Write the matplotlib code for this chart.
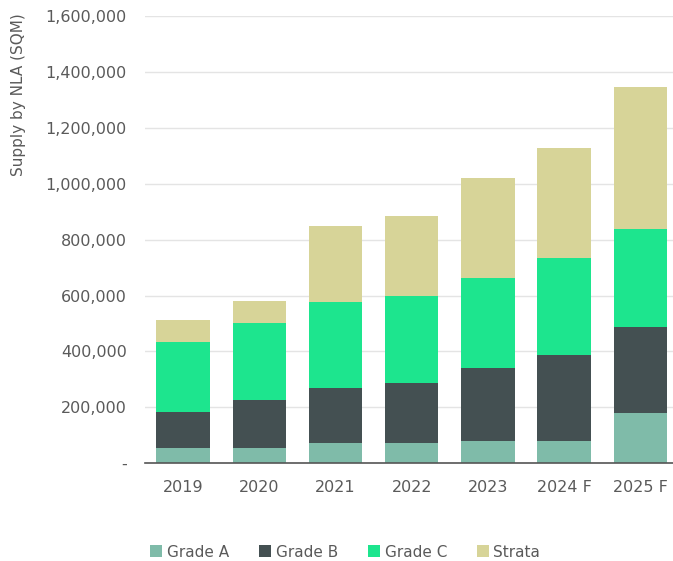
import numpy as np
import matplotlib.pyplot as plt
from matplotlib.ticker import FuncFormatter

# supply by grade, square metres NLA
years = ['2019', '2020', '2021', '2022', '2023', '2024 F', '2025 F']
grade_a = [54000, 54000, 72000, 72000, 81000, 81000, 179000]
grade_b = [129000, 173000, 199000, 215000, 260000, 307000, 307000]
grade_c = [250000, 275000, 307000, 313000, 323000, 347000, 351000]
strata = [79000, 80000, 269000, 283000, 355000, 391000, 509000]

labels = ['Grade A', 'Grade B', 'Grade C', 'Strata']
colors = ['#7fbba9', '#445052', '#1de58e', '#d7d498']

fig = plt.figure(figsize=(6.73, 5.61), dpi=100)
ax = fig.add_axes([0.2155, 0.1742, 0.7845, 0.7973])

x = np.arange(len(years))
bottom = np.zeros(len(years))
for vals, lab, col in zip([grade_a, grade_b, grade_c, strata], labels, colors):
    ax.bar(x, vals, width=0.7, bottom=bottom, color=col, label=lab, zorder=2)
    bottom += np.array(vals)

ax.set_ylim(0, 1600000)
ax.set_xlim(-0.5, 6.43)
ax.set_yticks(np.arange(0, 1600001, 200000))
ax.yaxis.set_major_formatter(FuncFormatter(lambda v, p: '-' if v == 0 else f'{int(v):,}'))
ax.set_xticks(x)
ax.set_xticklabels(years)

ax.grid(axis='y', color='#e4e4e4', linewidth=1, zorder=0)
for s in ['top', 'right', 'left']:
    ax.spines[s].set_visible(False)
ax.spines['bottom'].set_color('#555555')
ax.spines['bottom'].set_linewidth(1.2)
ax.tick_params(axis='both', length=0, labelsize=11.5, labelcolor='#5a5a5a')
ax.tick_params(axis='y', pad=13)
ax.tick_params(axis='x', pad=12)

ax.set_ylabel('Supply by NLA (SQM)', fontsize=11, color='#5a5a5a')
ax.yaxis.set_label_coords(-0.226, 0.824)

fig.legend(loc='center', bbox_to_anchor=(0.513, 0.016), ncol=4, frameon=False,
           fontsize=11, labelcolor='#5a5a5a', handlelength=0.8, handleheight=0.8,
           handletextpad=0.3, columnspacing=1.95)

plt.savefig('out.png', dpi=100)
